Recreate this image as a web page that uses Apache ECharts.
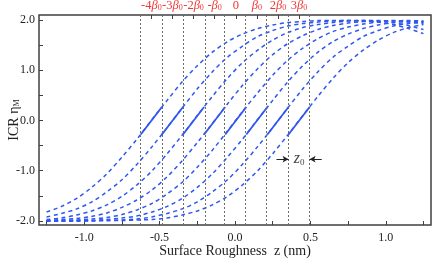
<!DOCTYPE html>
<html><head><meta charset="utf-8">
<script src="https://cdn.jsdelivr.net/npm/echarts@6/dist/echarts.min.js"></script>
<style>html,body{margin:0;padding:0;background:#fff}#c{width:436px;height:261px}</style>
</head><body><div id="c"></div>
<script>
// ---- data ----
const zGrid = [-1.25,-1.15,-1.05,-0.95,-0.85,-0.75,-0.65,-0.55,-0.45,-0.35,-0.25,-0.15,-0.05,0.05,0.15,0.25,0.35,0.45,0.55,0.65,0.75,0.85,0.95,1.05,1.15,1.25];
const curveM4 = [-1.82,-1.71,-1.55,-1.33,-1.06,-0.73,-0.37,0.02,0.40,0.77,1.09,1.36,1.57,1.72,1.83,1.90,1.95,1.97,1.99,1.99,1.99,1.98,1.96,1.91,1.83,1.73];
const curveM3 = [-1.92,-1.85,-1.76,-1.62,-1.42,-1.18,-0.87,-0.52,-0.14,0.25,0.63,0.97,1.26,1.48,1.67,1.79,1.88,1.93,1.96,1.98,1.99,1.99,1.98,1.95,1.89,1.81];
const curveM2 = [-1.97,-1.94,-1.88,-1.80,-1.68,-1.51,-1.28,-1.00,-0.66,-0.29,0.10,0.48,0.84,1.15,1.40,1.60,1.75,1.85,1.91,1.95,1.98,1.99,1.99,1.98,1.96,1.93];
const curveM1 = [-1.99,-1.97,-1.95,-1.91,-1.84,-1.73,-1.58,-1.38,-1.12,-0.80,-0.44,-0.06,0.33,0.70,1.03,1.31,1.53,1.69,1.81,1.89,1.94,1.97,1.98,1.99,1.98,1.96];
const curve0  = [-2.00,-1.99,-1.98,-1.96,-1.93,-1.87,-1.78,-1.65,-1.46,-1.23,-0.93,-0.59,-0.21,0.18,0.55,0.90,1.20,1.44,1.63,1.77,1.86,1.92,1.96,1.98,1.99,1.98];
const curveP1 = [-2.00,-2.00,-1.99,-1.99,-1.97,-1.94,-1.90,-1.82,-1.71,-1.55,-1.33,-1.06,-0.73,-0.37,0.02,0.40,0.77,1.09,1.36,1.57,1.72,1.83,1.90,1.95,1.97,1.97];
const curveP2 = [-2.00,-2.00,-2.00,-1.99,-1.99,-1.98,-1.96,-1.92,-1.85,-1.76,-1.62,-1.42,-1.18,-0.87,-0.52,-0.14,0.25,0.63,0.97,1.26,1.48,1.67,1.79,1.88,1.93,1.96];
const curveP3 = [-2.00,-2.00,-2.00,-2.00,-1.99,-1.99,-1.98,-1.97,-1.94,-1.88,-1.80,-1.68,-1.51,-1.28,-1.00,-0.66,-0.29,0.10,0.48,0.84,1.15,1.40,1.60,1.75,1.85,1.91];
const curves = [curveM4, curveM3, curveM2, curveM1, curve0, curveP1, curveP2, curveP3];
const curveCenters = [-0.555,-0.415,-0.275,-0.135,0.005,0.145,0.285,0.425];
const centerLabels = ['-4','-3','-2','-','0','','2','3'];
const boundaries = [-0.625,-0.485,-0.345,-0.205,-0.065,0.075,0.215,0.355,0.495];
const solidEta = [-0.28, 0.27];
const xTicks = [-1.25,-1,-0.75,-0.5,-0.25,0,0.25,0.5,0.75,1,1.25];
const xLabels = [-1,-0.5,0,0.5,1];
const yTicks = [-2,-1.5,-1,-0.5,0,0.5,1,1.5,2];
const yLabels = [-2,-1,0,1,2];
const z0Arrows = [[0.275,0.355],[0.575,0.495]];
const z0Pos = [0.425,-0.77];

// ---- style ----
const BLUE = '#2f57f0';
const AX = '#404040';
const SERIF = '"Liberation Serif","DejaVu Serif",serif';
const RED = '#f03535';

function topFmt(v){
  const i = curveCenters.findIndex(c => Math.abs(c - v) < 1e-6);
  if (i < 0) return '';
  const n = centerLabels[i];
  if (n === '0') return '{n|0}';
  return (n ? '{n|' + n + '}' : '') + '{b|β}{s|0}';
}

const series = [];
curves.forEach((arr) => {
  series.push({
    type: 'line', xAxisIndex: 0, yAxisIndex: 0,
    data: zGrid.map((z, j) => [z, arr[j]]),
    smooth: 0.3, showSymbol: false, silent: true,
    lineStyle: { color: BLUE, width: 1.5, type: [4, 3.5] }
  });
});
curves.forEach((arr, i) => {
  series.push({
    type: 'line', xAxisIndex: 0, yAxisIndex: 0,
    data: [[boundaries[i], solidEta[0]], [boundaries[i + 1], solidEta[1]]],
    showSymbol: false, silent: true,
    lineStyle: { color: BLUE, width: 1.8, type: 'solid' }
  });
});
series.push({
  type: 'line', data: [], silent: true,
  markLine: {
    silent: true, symbol: 'none', animation: false,
    label: { show: false },
    lineStyle: { color: '#6a6a6a', type: [2, 2], width: 1 },
    data: boundaries.map(b => ({ xAxis: b }))
  }
});
series.push({
  type: 'line', data: [], silent: true,
  markLine: {
    silent: true, symbol: ['none', 'arrow'], symbolSize: [5, 6], animation: false,
    label: { show: false },
    lineStyle: { color: '#222', type: 'solid', width: 1 },
    data: z0Arrows.map(a => [{ coord: [a[0], z0Pos[1]] }, { coord: [a[1], z0Pos[1]] }])
  }
});
series.push({
  type: 'scatter', data: [z0Pos], symbolSize: 0, silent: true,
  label: {
    show: true, position: 'inside', formatter: '{i|z}{s|0}',
    rich: {
      i: { fontFamily: SERIF, fontStyle: 'italic', fontSize: 16, color: '#111' },
      s: { fontFamily: SERIF, fontSize: 9, color: '#111', verticalAlign: 'bottom' }
    }
  }
});

const chart = echarts.init(document.getElementById('c'), null, { renderer: 'canvas' });
chart.setOption({
  animation: false,
  backgroundColor: '#fff',
  grid: { left: 39, right: 5, top: 15, bottom: 36, containLabel: false, outerBoundsMode: 'none',
          show: true, borderColor: AX, borderWidth: 1.5, backgroundColor: 'transparent' },
  xAxis: [{
    type: 'value', min: -1.3, max: 1.3, position: 'bottom',
    axisLine: { show: false, onZero: false },
    axisTick: { show: true, inside: true, length: 4, customValues: xTicks, lineStyle: { color: AX, width: 1 } },
    axisLabel: { customValues: xLabels, formatter: v => v.toFixed(1), fontFamily: SERIF, fontSize: 12, color: '#222', margin: 7 },
    splitLine: { show: false },
    name: 'Surface Roughness  z (nm)', nameLocation: 'middle', nameGap: 19, nameMoveOverlap: false,
    nameTextStyle: { fontFamily: SERIF, fontSize: 14, color: '#222' }
  }, {
    type: 'value', min: -1.3, max: 1.3, position: 'top',
    axisLine: { show: false, onZero: false },
    axisTick: { show: true, inside: true, length: 4, customValues: curveCenters, lineStyle: { color: AX, width: 1 } },
    axisLabel: {
      customValues: curveCenters, formatter: topFmt, margin: 3, hideOverlap: false, interval: 0,
      rich: {
        n: { fontFamily: SERIF, fontSize: 12.5, color: RED },
        b: { fontFamily: SERIF, fontStyle: 'italic', fontSize: 12.5, color: RED },
        s: { fontFamily: SERIF, fontSize: 8, color: RED, verticalAlign: 'bottom' }
      }
    },
    splitLine: { show: false }
  }],
  yAxis: [{
    type: 'value', min: -2.08, max: 2.1,
    axisLine: { show: false, onZero: false },
    axisTick: { show: true, inside: true, length: 4, customValues: yTicks, lineStyle: { color: AX, width: 1 } },
    axisLabel: { customValues: yLabels, formatter: v => v.toFixed(1), fontFamily: SERIF, fontSize: 12, color: '#222', margin: 4 },
    splitLine: { show: false },
    name: '{a|ICR }{b|η}{s|M}', nameLocation: 'middle', nameGap: 18, nameRotate: 90, nameMoveOverlap: false,
    nameTextStyle: {
      rich: {
        a: { fontFamily: SERIF, fontSize: 14, color: '#222' },
        b: { fontFamily: SERIF, fontSize: 14, color: '#222' },
        s: { fontFamily: SERIF, fontSize: 8, color: '#222', verticalAlign: 'bottom' }
      }
    }
  }],
  series: series
});
</script>
</body></html>
